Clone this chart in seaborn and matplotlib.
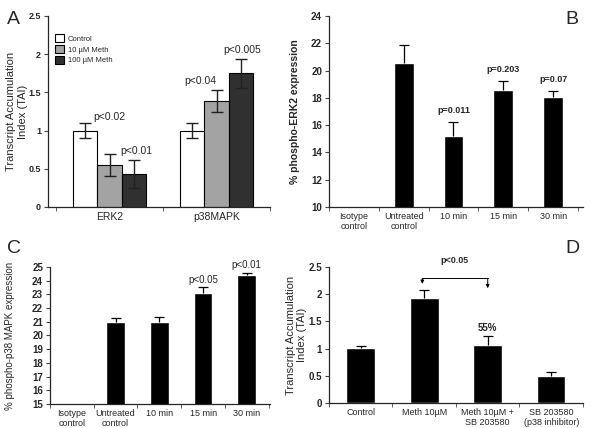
import matplotlib
matplotlib.use('Agg')
import matplotlib.pyplot as plt
import numpy as np
import pandas as pd
import seaborn as sns

# ─── Data ───
# Panel A: transcript accumulation (grouped)
genes_a = ['ERK2', 'p38MAPK']
treat_a = ['Control', '10 µM Meth', '100 µM Meth']
tai_a = {'Control': [1.0, 1.0], '10 µM Meth': [0.55, 1.39], '100 µM Meth': [0.43, 1.75]}
err_a = {'Control': [0.095, 0.10], '10 µM Meth': [0.14, 0.145], '100 µM Meth': [0.18, 0.19]}

# Panel B: % phospho-ERK2
cats_b = ['Isotype\ncontrol', 'Untreated\ncontrol', '10 min', '15 min', '30 min']
vals_b = [np.nan, 20.52, 15.2, 18.57, 18.03]
err_b = [0, 1.33, 1.05, 0.68, 0.45]
pval_b = ['', '', 'p=0.011', 'p=0.203', 'p=0.07']

# Panel C: % phospho-p38 MAPK
cats_c = ['Isotype\ncontrol', 'Untreated\ncontrol', '10 min', '15 min', '30 min']
vals_c = [np.nan, 20.95, 21.0, 23.12, 24.42]
err_c = [0, 0.3, 0.33, 0.4, 0.14]
pval_c = ['', '', '', 'p<0.05', 'p<0.01']

# Panel D: TAI with p38 inhibitor
cats_d = ['Control', 'Meth 10µM', 'Meth 10µM +\nSB 203580', 'SB 203580\n(p38 inhibitor)']
vals_d = [1.01, 1.93, 1.06, 0.49]
err_d = [0.03, 0.15, 0.17, 0.08]

# ─── Style ───
sns.set_style('ticks')
plt.rcParams['font.family'] = ['Liberation Sans', 'DejaVu Sans']
plt.rcParams.update({
    'axes.linewidth': 0.9,
    'xtick.major.size': 3,
    'ytick.major.size': 3,
    'xtick.minor.size': 3,
    'xtick.direction': 'out',
    'ytick.direction': 'out',
})

fig = plt.figure(figsize=(6, 4.28), dpi=100)
ax_a = fig.add_axes([0.080, 0.5164, 0.370, 0.4463])
ax_b = fig.add_axes([0.5483, 0.5164, 0.4233, 0.4463])
ax_c = fig.add_axes([0.0833, 0.0561, 0.3667, 0.3201])
ax_d = fig.add_axes([0.5483, 0.0584, 0.4233, 0.3178])


def _style_axis(ax, n, ylim, yticks):
    sns.despine(ax=ax)
    ax.set_ylim(*ylim)
    ax.set_yticks(yticks)
    ax.set_xticks(np.arange(n + 1) - 0.5, minor=True)
    ax.tick_params(axis='x', which='major', length=0)
    ax.tick_params(axis='x', which='minor', length=3, color='#444444')
    ax.tick_params(axis='y', length=3, color='#444444', pad=2)
    for lab in ax.get_yticklabels():
        lab.set_fontweight('bold')
        lab.set_fontsize(7)
    ax.set_xlabel('')


def _upper_errorbars(ax, vals, errs):
    """Error bars pointing up only, with a cap on top."""
    x = np.arange(len(vals))
    _, caps, _ = ax.errorbar(x, vals, yerr=[np.zeros(len(errs)), errs], fmt='none',
                             ecolor='black', lw=0.9, capsize=3.5, capthick=0.9)
    caps[0].remove()  # drop the lower cap sitting on the bar top
    return x


# ═════════ A ═════════
df_a = pd.DataFrame([
    {'gene': g, 'treat': t, 'tai': tai_a[t][i], 'err': err_a[t][i]}
    for t in treat_a for i, g in enumerate(genes_a)
])
sns.barplot(data=df_a, x='gene', y='tai', hue='treat', order=genes_a, hue_order=treat_a,
            palette=['white', '#a3a3a3', '#303030'], width=0.675, errorbar=None,
            edgecolor='black', linewidth=0.8, ax=ax_a)
for bar, (_, row) in zip(ax_a.patches, df_a.iterrows()):
    cx = bar.get_x() + bar.get_width() / 2
    ax_a.errorbar(cx, row['tai'], yerr=row['err'], color='#222222', lw=1, capsize=4, capthick=1)
ax_a.set_xlim(-0.575, 1.42)
_style_axis(ax_a, 2, (0, 2.5), [0, 0.5, 1, 1.5, 2, 2.5])
ax_a.set_yticklabels(['0', '0.5', '1', '1.5', '2', '2.5'], fontweight='bold', fontsize=6.5)
ax_a.set_xticklabels(genes_a, fontsize=7.5)
ax_a.set_ylabel('Transcript Accumulation\nIndex (TAI)', fontsize=8)
ax_a.yaxis.set_label_coords(-0.09, 0.5)
ax_a.legend(loc='upper left', bbox_to_anchor=(0.02, 0.92), frameon=False, fontsize=5.5,
            handlelength=1.1, handleheight=1.1, handletextpad=0.5, labelspacing=0.35,
            borderaxespad=0)
for txt, x, y in [('p<0.02', 0.0, 1.18), ('p<0.01', 0.25, 0.73),
                  ('p<0.04', 0.85, 1.65), ('p<0.005', 1.24, 2.05)]:
    ax_a.text(x, y, txt, ha='center', va='center', fontsize=7.5)

# ═════════ B ═════════
df_b = pd.DataFrame({'cat': cats_b, 'val': vals_b})
sns.barplot(data=df_b, x='cat', y='val', order=cats_b, color='black', width=0.4,
            errorbar=None, ax=ax_b)
xb = _upper_errorbars(ax_b, vals_b, err_b)
for x, v, e, p in zip(xb, vals_b, err_b, pval_b):
    if p:
        ax_b.text(x, v + e + 0.85, p, ha='center', va='center', fontsize=6.5, fontweight='bold')
ax_b.set_xlim(-0.48, 4.6)
_style_axis(ax_b, len(cats_b), (10, 24), np.arange(10, 25, 2))
ax_b.set_xticklabels(cats_b, fontsize=6.5)
ax_b.set_ylabel('% phospho-ERK2 expression', fontsize=7.5, fontweight='bold', labelpad=8)

# ═════════ C ═════════
df_c = pd.DataFrame({'cat': cats_c, 'val': vals_c})
sns.barplot(data=df_c, x='cat', y='val', order=cats_c, color='black', width=0.43,
            errorbar=None, ax=ax_c)
xc = _upper_errorbars(ax_c, vals_c, err_c)
for x, v, e, p in zip(xc, vals_c, err_c, pval_c):
    if p:
        ax_c.text(x, v + e + 0.55, p, ha='center', va='center', fontsize=7)
ax_c.set_xlim(-0.47, 4.53)
_style_axis(ax_c, len(cats_c), (15, 25), np.arange(15, 26, 1))
ax_c.set_xticklabels(cats_c, fontsize=6.5)
ax_c.set_ylabel('% phospho-p38 MAPK expression', fontsize=7)
ax_c.yaxis.set_label_coords(-0.16, 0.5)

# ═════════ D ═════════
df_d = pd.DataFrame({'cat': cats_d, 'val': vals_d})
sns.barplot(data=df_d, x='cat', y='val', order=cats_d, color='black', width=0.45,
            errorbar=None, ax=ax_d)
_upper_errorbars(ax_d, vals_d, err_d)
ax_d.set_xlim(-0.49, 3.3)
_style_axis(ax_d, len(cats_d), (0, 2.5), [0, 0.5, 1, 1.5, 2, 2.5])
ax_d.set_yticklabels(['0', '0.5', '1', '1.5', '2', '2.5'], fontweight='bold', fontsize=7)
ax_d.set_xticklabels(cats_d, fontsize=6.5)
ax_d.set_ylabel('Transcript Accumulation\nIndex (TAI)', fontsize=8)
ax_d.yaxis.set_label_coords(-0.085, 0.5)
# bracket between Meth 10µM and Meth + SB
ax_d.plot([0.97, 2.0], [2.29, 2.29], color='black', lw=0.7, clip_on=False)
for x, y_end in [(0.97, 2.19), (2.0, 2.11)]:
    ax_d.annotate('', xy=(x, y_end), xytext=(x, 2.29), annotation_clip=False,
                  arrowprops=dict(arrowstyle='-|>', color='black', lw=0.7,
                                  mutation_scale=5, shrinkA=0, shrinkB=0))
ax_d.text(1.48, 2.62, 'p<0.05', ha='center', va='center', fontsize=6.5, fontweight='bold')
ax_d.text(2.0, 1.38, '55%', ha='center', va='center', fontsize=7, fontweight='bold')

# ─── Panel letters ───
for lbl, x, y in [('A', 0.012, 0.975), ('B', 0.943, 0.975), ('C', 0.012, 0.44), ('D', 0.943, 0.44)]:
    fig.text(x, y, lbl, fontsize=14, ha='left', va='top')

fig.savefig('out.png', dpi=100)
